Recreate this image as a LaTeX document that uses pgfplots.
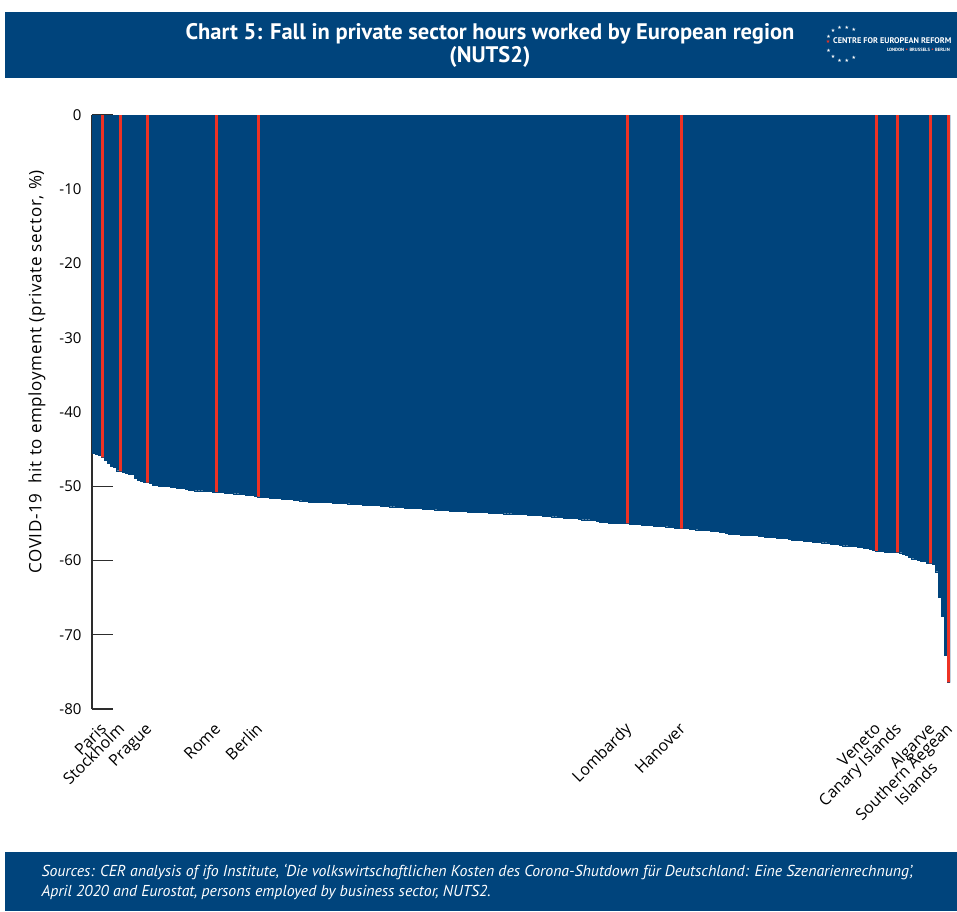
\documentclass[border=0pt]{standalone}
\usepackage{fontspec}
\setmainfont{Open Sans}
\newfontfamily\ptsans{PT Sans}
\newfontfamily\dejavu{DejaVu Sans}
\newfontfamily\ylabfont[LetterSpace=4]{Open Sans}
\usepackage{pgfplots}
\pgfplotsset{compat=1.18}
\definecolor{cerblue}{RGB}{0,68,124}
\definecolor{cerred}{RGB}{238,50,36}
\definecolor{axisgray}{RGB}{45,45,45}

\begin{document}
\begin{tikzpicture}
\fill[white] (0pt,0pt) rectangle (957pt,-911pt);
% title band
\fill[cerblue] (5pt,-12pt) rectangle (957pt,-78pt);
\node[font=\ptsans\bfseries\fontsize{22.5}{23}\selectfont, text=white, align=center]
  at (490pt,-45pt) {Chart 5: Fall in private sector hours worked by European region\\(NUTS2)};
% logo
\foreach \a in {55,80,105,130,155,205,230,255,280,305}
  \node[text=white, font=\dejavu\fontsize{5}{5}\selectfont, inner sep=0pt]
    at ([shift={(\a:17pt)}]844pt,-44pt) {★};
\node[text=cerred, font=\dejavu\fontsize{5}{5}\selectfont, inner sep=0pt] at (828pt,-42pt) {★};
\node[anchor=west, inner sep=0pt, text=white, font=\ptsans\bfseries\fontsize{8.2}{9}\selectfont]
  at (833pt,-41pt) {CENTRE FOR EUROPEAN REFORM};
\node[anchor=east, inner sep=0pt, text=white, font=\ptsans\bfseries\fontsize{4.6}{5}\selectfont]
  at (950pt,-50pt) {LONDON {\color{cerred}\dejavu•} BRUSSELS {\color{cerred}\dejavu•} BERLIN};
% footer band
\fill[cerblue] (5pt,-852pt) rectangle (957pt,-911pt);
\node[anchor=west, text=white, align=left, font=\ptsans\itshape\fontsize{15.8}{20}\selectfont]
  at (38pt,-882pt) {Sources: CER analysis of ifo Institute, ‘Die volkswirtschaftlichen Kosten des Corona-Shutdown für Deutschland: Eine Szenarienrechnung’,\\April 2020 and Eurostat, persons employed by business sector, NUTS2.};
% y label
\node[rotate=90, font=\ylabfont\fontsize{17}{18}\selectfont] at (37pt,-372pt) {COVID-19\ \ hit to employment (private sector, \%)};

\begin{axis}[
  at={(92pt,-709pt)}, anchor=south west,
  scale only axis, width=858pt, height=594pt,
  xmin=-0.5, xmax=285.5, ymin=-80, ymax=0,
  axis x line=bottom, axis y line=left,
  x axis line style={draw=none},
  y axis line style={-, draw=axisgray, line width=1.2pt},
  xtick={3,9,18,41,55,178,196,261,268,279,285},
  xticklabels={Paris,Stockholm,Prague,Rome,Berlin,Lombardy,Hanover,Veneto,Canary Islands,Algarve,
    {\begin{tabular}[t]{@{}c@{}}Southern Aegean\\Islands\end{tabular}}},
  xtick style={draw=none},
  xticklabel style={xshift=5pt, yshift=-21pt, rotate=45, anchor=base east, inner sep=0pt,
    font=\fontsize{16}{17}\selectfont},
  ytick={-80,-70,-60,-50,-40,-30,-20,-10,0},
  yticklabels={-80,-70,-60,-50,-40,-30,-20,-10,0},
  tick align=inside, major tick length=21pt,
  ytick style={draw=axisgray, line width=1.2pt},
  yticklabel style={font=\fontsize{15}{16}\selectfont, xshift=-7pt},
]
\addplot[ybar, bar width=1, bar shift=0pt, fill=cerblue, draw=cerblue, line width=0.3pt] coordinates {
(0,-45.6) (1,-45.7) (2,-45.8) (3,-46.1) (4,-46.5) (5,-46.9) (6,-47.3) (7,-47.4) (8,-47.9) (9,-48.0)
(10,-48.1) (11,-48.2) (12,-48.4) (13,-48.4) (14,-48.9) (15,-49.2) (16,-49.3) (17,-49.4) (18,-49.5) (19,-49.6)
(20,-49.8) (21,-49.9) (22,-49.95) (23,-50.0) (24,-50.0) (25,-50.05) (26,-50.1) (27,-50.1) (28,-50.2) (29,-50.3)
(30,-50.3) (31,-50.35) (32,-50.5) (33,-50.55) (34,-50.6) (35,-50.6) (36,-50.6) (37,-50.65) (38,-50.7) (39,-50.7)
(40,-50.75) (41,-50.8) (42,-50.8) (43,-50.85) (44,-50.9) (45,-50.9) (46,-50.95) (47,-51.0) (48,-51.0) (49,-51.05)
(50,-51.1) (51,-51.15) (52,-51.2) (53,-51.25) (54,-51.3) (55,-51.4) (56,-51.45) (57,-51.5) (58,-51.5) (59,-51.55)
(60,-51.6) (61,-51.6) (62,-51.65) (63,-51.7) (64,-51.75) (65,-51.8) (66,-51.8) (67,-51.85) (68,-51.9) (69,-51.95)
(70,-52.0) (71,-52.05) (72,-52.1) (73,-52.1) (74,-52.1) (75,-52.15) (76,-52.15) (77,-52.2) (78,-52.2) (79,-52.2)
(80,-52.25) (81,-52.25) (82,-52.3) (83,-52.3) (84,-52.3) (85,-52.35) (86,-52.4) (87,-52.4) (88,-52.45) (89,-52.45)
(90,-52.5) (91,-52.5) (92,-52.55) (93,-52.6) (94,-52.6) (95,-52.6) (96,-52.65) (97,-52.7) (98,-52.7) (99,-52.75)
(100,-52.75) (101,-52.8) (102,-52.8) (103,-52.85) (104,-52.9) (105,-52.9) (106,-52.95) (107,-52.95) (108,-53.0) (109,-53.0)
(110,-53.05) (111,-53.05) (112,-53.1) (113,-53.1) (114,-53.15) (115,-53.2) (116,-53.2) (117,-53.25) (118,-53.25) (119,-53.3)
(120,-53.3) (121,-53.35) (122,-53.35) (123,-53.4) (124,-53.4) (125,-53.45) (126,-53.45) (127,-53.5) (128,-53.5) (129,-53.5)
(130,-53.55) (131,-53.55) (132,-53.6) (133,-53.6) (134,-53.6) (135,-53.65) (136,-53.65) (137,-53.7) (138,-53.7) (139,-53.7)
(140,-53.75) (141,-53.75) (142,-53.8) (143,-53.8) (144,-53.8) (145,-53.85) (146,-53.85) (147,-53.9) (148,-53.9) (149,-53.95)
(150,-54.0) (151,-54.0) (152,-54.05) (153,-54.1) (154,-54.1) (155,-54.15) (156,-54.2) (157,-54.25) (158,-54.3) (159,-54.3)
(160,-54.3) (161,-54.35) (162,-54.4) (163,-54.5) (164,-54.5) (165,-54.5) (166,-54.55) (167,-54.6) (168,-54.75) (169,-54.8)
(170,-54.85) (171,-54.9) (172,-54.95) (173,-55.0) (174,-55.0) (175,-55.0) (176,-55.0) (177,-55.0) (178,-55.0) (179,-55.05)
(180,-55.05) (181,-55.1) (182,-55.15) (183,-55.2) (184,-55.2) (185,-55.2) (186,-55.25) (187,-55.35) (188,-55.4) (189,-55.4)
(190,-55.4) (191,-55.45) (192,-55.5) (193,-55.55) (194,-55.6) (195,-55.6) (196,-55.7) (197,-55.7) (198,-55.7) (199,-55.75)
(200,-55.8) (201,-55.85) (202,-55.9) (203,-55.9) (204,-55.9) (205,-55.95) (206,-56.0) (207,-56.0) (208,-56.05) (209,-56.15)
(210,-56.2) (211,-56.35) (212,-56.4) (213,-56.45) (214,-56.5) (215,-56.5) (216,-56.55) (217,-56.6) (218,-56.6) (219,-56.6)
(220,-56.6) (221,-56.65) (222,-56.7) (223,-56.75) (224,-56.85) (225,-56.9) (226,-56.9) (227,-56.9) (228,-56.95) (229,-56.95)
(230,-57.0) (231,-57.05) (232,-57.15) (233,-57.25) (234,-57.3) (235,-57.3) (236,-57.3) (237,-57.4) (238,-57.45) (239,-57.45)
(240,-57.5) (241,-57.5) (242,-57.55) (243,-57.6) (244,-57.6) (245,-57.7) (246,-57.8) (247,-57.85) (248,-57.85) (249,-57.9)
(250,-58.0) (251,-58.0) (252,-58.1) (253,-58.1) (254,-58.1) (255,-58.15) (256,-58.25) (257,-58.3) (258,-58.4) (259,-58.45)
(260,-58.65) (261,-58.7) (262,-58.75) (263,-58.8) (264,-58.85) (265,-58.85) (266,-58.9) (267,-58.9) (268,-58.9) (269,-58.95)
(270,-59.1) (271,-59.3) (272,-59.55) (273,-59.75) (274,-59.8) (275,-59.9) (276,-60.05) (277,-60.1) (278,-60.35) (279,-60.4)
(280,-60.45) (281,-61.5) (282,-65.0) (283,-67.5) (284,-72.7) (285,-76.4)
};
\addplot[ybar, bar width=0.9, bar shift=0pt, fill=cerred, draw=none] coordinates {
(3,-46.1) (9,-48.0) (18,-49.5) (41,-50.8) (55,-51.4) (178,-55.0) (196,-55.7) (261,-58.7) (268,-58.9) (279,-60.4) (285,-76.4)
};
\end{axis}
\pgfresetboundingbox
\path[use as bounding box] (0pt,0pt) rectangle (957pt,-911pt);
\end{tikzpicture}
\end{document}
